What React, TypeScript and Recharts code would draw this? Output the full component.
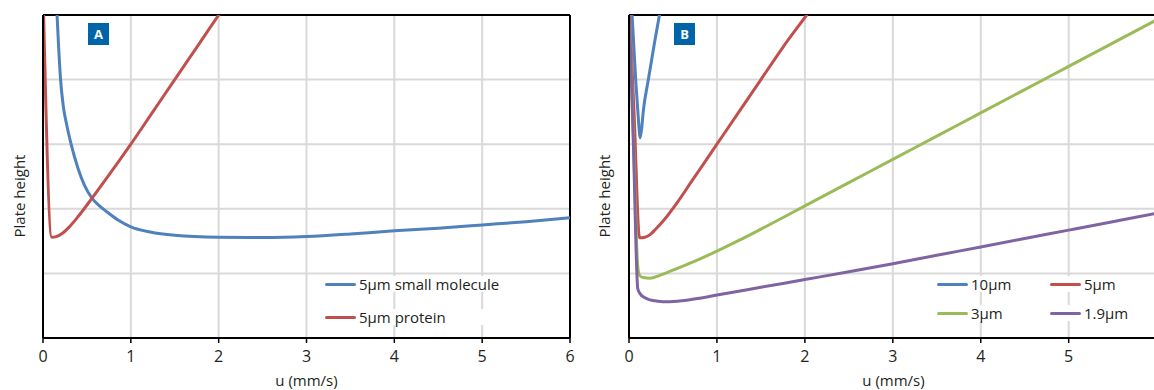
import React from "react";
import {
  CartesianGrid,
  Legend,
  Line,
  LineChart,
  ReferenceLine,
  XAxis,
  YAxis,
} from "recharts";

const FONT = "'Open Sans', 'Noto Sans', sans-serif";
const INK = "#231f20";

// axis ticks (plate height has no labels, only grid rows)
const uTicksA = [0, 1, 2, 3, 4, 5, 6];
const uTicksB = [0, 1, 2, 3, 4, 5];
const hTicks = [0, 1, 2, 3, 4, 5];

// Panel A: 5µm small molecule
const smallMolU = [0.14, 0.16, 0.18, 0.2, 0.23, 0.27, 0.32, 0.4, 0.47, 0.555, 0.64, 0.73, 0.85, 1.0, 1.22, 1.5, 2.0, 2.5, 3.0, 3.5, 4.0, 4.5, 5.0, 5.5, 6.0];
const smallMolH = [5.5, 5.0, 4.45, 4.0, 3.6, 3.3, 3.0, 2.62, 2.37, 2.17, 2.05, 1.95, 1.83, 1.72, 1.64, 1.59, 1.56, 1.555, 1.57, 1.61, 1.66, 1.7, 1.75, 1.8, 1.86];

// Panel A: 5µm protein
const proteinU = [0, 0.1, 0.15, 0.23, 0.3, 0.4, 0.55, 0.7, 0.85, 1.0, 1.25, 1.5, 1.75, 2.0, 2.1];
const proteinH = [5.4, 1.56, 1.57, 1.63, 1.72, 1.88, 2.15, 2.43, 2.71, 3.0, 3.5, 4.0, 4.5, 5.0, 5.2];

// Panel B: particle sizes
const p10U = [0.02, 0.035, 0.076, 0.1, 0.115, 0.125, 0.14, 0.164, 0.22, 0.29, 0.35, 0.38];
const p10H = [5.4, 5.0, 4.0, 3.52, 3.24, 3.1, 3.2, 3.53, 4.0, 4.57, 5.03, 5.25];

const p5U = [0, 0.06, 0.12, 0.18, 0.24, 0.3, 0.4, 0.55, 0.7, 0.85, 1.0, 1.25, 1.5, 1.75, 2.02, 2.1];
const p5H = [5.3, 3.4, 1.55, 1.56, 1.6, 1.68, 1.83, 2.1, 2.4, 2.7, 3.0, 3.5, 4.0, 4.5, 5.0, 5.15];

const p3U = [0, 0.05, 0.1, 0.12, 0.16, 0.24, 0.35, 0.5, 0.75, 1.0, 1.25, 1.5, 2.0, 2.5, 3.0, 3.5, 4.0, 4.5, 5.0, 5.5, 6.0];
const p3H = [5.3, 3.1, 1.1, 0.97, 0.935, 0.925, 0.97, 1.05, 1.19, 1.345, 1.51, 1.685, 2.045, 2.405, 2.765, 3.125, 3.485, 3.845, 4.205, 4.565, 4.925];

const p19U = [0, 0.05, 0.1, 0.13, 0.17, 0.24, 0.33, 0.43, 0.6, 0.8, 1.0, 1.5, 2.0, 2.5, 3.0, 3.5, 4.0, 4.5, 5.0, 5.5, 6.0];
const p19H = [5.2, 3.0, 0.76, 0.68, 0.63, 0.59, 0.57, 0.56, 0.575, 0.615, 0.665, 0.785, 0.905, 1.025, 1.15, 1.28, 1.41, 1.54, 1.67, 1.8, 1.93];

const BLUE = "#4f81bd";
const RED = "#c0504d";
const GREEN = "#9bbb59";
const PURPLE = "#8064a2";

const legendOrderA = ["5µm small molecule", "5µm protein"];
const legendOrderB = ["10µm", "5µm", "3µm", "1.9µm"];

const pts = (u: number[], h: number[]) => u.map((x, i) => ({ u: x, h: h[i] }));

const axisLine = { stroke: "#000", strokeWidth: 2 };
const tickStyle = { fill: INK, fontSize: 16, fontFamily: FONT };
const noTick = () => <g />;

function Badge({ letter, left }: { letter: string; left: number }) {
  return (
    <div
      style={{
        position: "absolute",
        left,
        top: 23,
        width: 21,
        height: 22,
        background: "#0064a8",
        color: "#fff",
        fontFamily: FONT,
        fontWeight: 700,
        fontSize: 13,
        lineHeight: "22px",
        textAlign: "center",
      }}
    >
      {letter}
    </div>
  );
}

function YTitle({ left }: { left: number }) {
  return (
    <div
      style={{
        position: "absolute",
        left,
        top: 196,
        transform: "translate(-50%, -50%) rotate(-90deg)",
        whiteSpace: "nowrap",
        fontFamily: FONT,
        fontSize: 15,
        color: INK,
      }}
    >
      Plate height
    </div>
  );
}

const legendRow = (color: string, label: string, width: number) => (
  <div
    key={label}
    style={{
      display: "flex",
      alignItems: "center",
      height: 16,
      width,
      background: "#fff",
      fontFamily: FONT,
      fontSize: 15,
      color: INK,
    }}
  >
    <span style={{ width: 31, height: 3, borderRadius: 2, background: color, marginLeft: 3, marginRight: 3 }} />
    <span>{label}</span>
  </div>
);

const ordered = (payload: any[] | undefined, order: string[]) =>
  order
    .map((name) => (payload || []).find((p: any) => p.value === name))
    .filter(Boolean);

function LegendA({ payload }: any) {
  return (
    <div style={{ display: "flex", flexDirection: "column", gap: 17 }}>
      {ordered(payload, legendOrderA).map((p: any) => legendRow(p.color, p.value, 183))}
    </div>
  );
}

function LegendB({ payload }: any) {
  return (
    <div style={{ display: "grid", gridTemplateColumns: "113px 113px", rowGap: 13 }}>
      {ordered(payload, legendOrderB).map((p: any) => legendRow(p.color, p.value, 113))}
    </div>
  );
}

function PanelA() {
  return (
    <div style={{ position: "absolute", left: 0, top: 0, width: 600, height: 390 }}>
      <LineChart width={600} height={390} margin={{ top: 15, right: 30, bottom: 0, left: 0 }}>
        <CartesianGrid stroke="#d9d9d9" strokeWidth={2} horizontalValues={hTicks} verticalValues={uTicksA} />
        <XAxis
          type="number"
          dataKey="u"
          domain={[0, 6]}
          ticks={uTicksA}
          allowDataOverflow
          height={52}
          axisLine={axisLine}
          tickLine={{ stroke: "#000", strokeWidth: 1.5 }}
          tickSize={5}
          tickMargin={8}
          tick={tickStyle}
          label={{ value: "u (mm/s)", position: "insideBottom", offset: 4, fill: INK, fontSize: 15, fontFamily: FONT }}
        />
        <YAxis
          type="number"
          domain={[0, 5]}
          ticks={hTicks}
          allowDataOverflow
          width={43}
          tick={noTick}
          tickLine={false}
          axisLine={axisLine}
        />
        <ReferenceLine y={5} stroke="#000" strokeWidth={2} />
        <ReferenceLine x={6} stroke="#000" strokeWidth={2} />
        <Line data={pts(smallMolU, smallMolH)} dataKey="h" name="5µm small molecule" type="monotone" stroke={BLUE} strokeWidth={3} dot={false} activeDot={false} isAnimationActive={false} />
        <Line data={pts(proteinU, proteinH)} dataKey="h" name="5µm protein" type="monotone" stroke={RED} strokeWidth={3} dot={false} activeDot={false} isAnimationActive={false} />
        <Legend
          layout="horizontal"
          verticalAlign="middle"
          align="center"
          content={<LegendA />}
          wrapperStyle={{ position: "absolute", left: 322, top: 276, width: 183, margin: 0 }}
        />
      </LineChart>
      <Badge letter="A" left={88} />
      <YTitle left={19} />
    </div>
  );
}

function PanelB() {
  return (
    <div style={{ position: "absolute", left: 586, top: 0, width: 568, height: 390 }}>
      <LineChart width={568} height={390} margin={{ top: 15, right: 0, bottom: 0, left: 0 }}>
        <CartesianGrid stroke="#d9d9d9" strokeWidth={2} horizontalValues={hTicks} verticalValues={uTicksB} />
        <XAxis
          type="number"
          dataKey="u"
          domain={[0, 5.97]}
          ticks={uTicksB}
          allowDataOverflow
          height={52}
          axisLine={axisLine}
          tickLine={{ stroke: "#000", strokeWidth: 1.5 }}
          tickSize={5}
          tickMargin={8}
          tick={tickStyle}
          label={{ value: "u (mm/s)", position: "insideBottom", offset: 4, dx: 2, fill: INK, fontSize: 15, fontFamily: FONT }}
        />
        <YAxis
          type="number"
          domain={[0, 5]}
          ticks={hTicks}
          allowDataOverflow
          width={43}
          tick={noTick}
          tickLine={false}
          axisLine={axisLine}
        />
        <ReferenceLine y={5} stroke="#000" strokeWidth={2} />
        <Line data={pts(p10U, p10H)} dataKey="h" name="10µm" type="monotone" stroke={BLUE} strokeWidth={3} dot={false} activeDot={false} isAnimationActive={false} />
        <Line data={pts(p5U, p5H)} dataKey="h" name="5µm" type="monotone" stroke={RED} strokeWidth={3} dot={false} activeDot={false} isAnimationActive={false} />
        <Line data={pts(p3U, p3H)} dataKey="h" name="3µm" type="monotone" stroke={GREEN} strokeWidth={3} dot={false} activeDot={false} isAnimationActive={false} />
        <Line data={pts(p19U, p19H)} dataKey="h" name="1.9µm" type="monotone" stroke={PURPLE} strokeWidth={3} dot={false} activeDot={false} isAnimationActive={false} />
        <Legend
          layout="horizontal"
          verticalAlign="middle"
          align="center"
          content={<LegendB />}
          wrapperStyle={{ position: "absolute", left: 348, top: 276, width: 226, margin: 0 }}
        />
      </LineChart>
      <Badge letter="B" left={88} />
      <YTitle left={18} />
    </div>
  );
}

export default function App() {
  return (
    <div
      style={{
        position: "absolute",
        left: 0,
        top: 0,
        width: 1154,
        height: 390,
        overflow: "hidden",
        background: "#fff",
      }}
    >
      <PanelA />
      <PanelB />
    </div>
  );
}
